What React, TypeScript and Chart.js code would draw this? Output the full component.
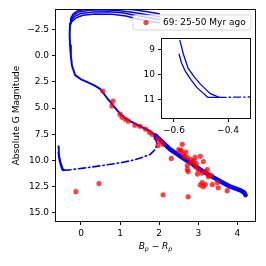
import React, { useEffect, useRef } from "react";
import { Chart, registerables } from "chart.js";
Chart.register(...registerables);

const FONT = "DejaVu Sans";
const BLUE = "#0000ff";
const RED = "rgba(255,0,0,0.75)";

const X_TICKS = [0, 1, 2, 3, 4];
const Y_TICKS = [-2.5, 0, 2.5, 5, 7.5, 10, 12.5, 15];
const INSET_X_TICKS = [-0.6, -0.4];
const INSET_Y_TICKS = [9, 10, 11];
const LEGEND_LABEL = "69: 25-50 Myr ago";
const Y_TITLE = "Absolute G Magnitude";

// observed stars
const STAR_X = [-0.13, 0.46, 0.56, 0.82, 0.79, 1.0, 1.05, 1.13, 1.21, 1.38, 1.51, 1.65, 1.75, 1.82, 1.97, 2.03, 2.1, 1.97,
  2.59, 2.31, 2.54, 2.62, 2.72, 2.85, 2.92, 3.05, 3.13, 2.92, 2.74, 2.72, 3.0, 3.18, 3.26, 3.1, 3.18, 3.36, 3.49,
  2.1, 2.74, 2.72, 3.23, 3.26, 3.13, 3.51, 3.74, 3.33, 2.56, 2.65, 2.8, 2.95, 2.68, 3.05, 2.82, 2.88, 2.5, 3.1, 2.98];
const STAR_Y = [12.98, 12.2, 3.37, 4.33, 4.8, 5.58, 5.87, 6.06, 6.25, 6.63, 6.73, 7.0, 7.3, 7.5, 7.88, 8.17, 8.46, 8.56,
  8.46, 9.8, 9.13, 9.42, 9.71, 10.1, 9.71, 9.6, 10.1, 10.58, 11.06, 10.87, 10.87, 11.06, 11.54, 12.1, 12.3, 12.3, 12.1,
  13.27, 13.46, 10.48, 10.87, 11.35, 12.5, 12.6, 12.88, 11.44, 9.0, 9.6, 9.9, 10.3, 9.2, 12.35, 10.2, 10.0, 8.95, 11.2, 11.3];

// isochrone: upper main sequence
const MS_TOP_X = [-0.28, -0.29, -0.28, -0.26, -0.23, -0.15, 0.0, 0.15, 0.35, 0.49, 0.6, 0.7, 0.79, 0.9, 1.0, 1.13, 1.26, 1.51, 1.77, 1.97];
const MS_TOP_Y = [-3.0, -2.0, -1.0, 0.0, 0.96, 1.85, 2.25, 2.5, 2.85, 3.17, 3.7, 4.2, 4.6, 5.1, 5.55, 5.95, 6.25, 6.73, 7.21, 7.79];
// lower main sequence (overlapping isochrones)
const MS_BOT_X = [1.9, 2.1, 2.28, 2.5, 2.79, 3.13, 3.49, 3.82, 4.08, 4.17, 4.21];
const MS_BOT_Y = [7.6, 8.3, 8.94, 9.5, 10.19, 11.06, 11.83, 12.5, 12.85, 13.05, 13.3];
// giant branches
const GB_A_X = [-0.28, -0.26, -0.2, -0.08, 0.15, 0.5, 1.0, 1.35, 1.7, 2.0];
const GB_A_Y = [-3.0, -3.6, -4.0, -4.3, -4.45, -4.52, -4.48, -4.38, -4.2, -4.0];
const GB_B_X = [-0.28, -0.25, -0.18, -0.05, 0.2, 0.6, 1.0, 1.35, 1.7, 2.0];
const GB_B_Y = [-3.0, -3.5, -3.9, -4.18, -4.33, -4.38, -4.3, -4.12, -3.92, -3.72];
const GB_C_X = [-0.28, -0.24, -0.15, 0.0, 0.3, 0.7, 1.05, 1.35, 1.7, 2.0];
const GB_C_Y = [-3.0, -3.4, -3.78, -4.03, -4.17, -4.2, -4.1, -3.88, -3.65, -3.45];
const GB_D_X = [-0.28, -0.22, -0.12, 0.05, 0.35, 0.8, 1.15, 1.4, 1.7, 2.0];
const GB_D_Y = [-3.0, -3.3, -3.62, -3.86, -3.98, -3.96, -3.8, -3.55, -3.32, -3.15];
// faint end (solid curves)
const PMS_A_X = [-0.578, -0.565, -0.548, -0.525, -0.504, -0.467, -0.433];
const PMS_A_Y = [8.65, 9.2, 9.75, 10.1, 10.37, 10.76, 10.92];
const PMS_B_X = [-0.581, -0.572, -0.559, -0.538, -0.515, -0.474, -0.433];
const PMS_B_Y = [9.2, 9.55, 9.86, 10.2, 10.53, 10.92, 10.92];
// dash-dot branch
const DASH_X = [-0.433, -0.3, 0.18, 0.6, 1.05, 1.35, 1.56, 1.77, 1.9, 1.95, 1.92, 1.87];
const DASH_Y = [10.92, 10.9, 10.67, 10.45, 10.19, 9.95, 9.71, 9.42, 8.94, 8.46, 8.1, 7.85];

const pts = (xs: number[], ys: number[]) => xs.map((x, i) => ({ x, y: ys[i] }));
const minus = (s: string) => s.replace("-", "\u2212");

const line = (label: string, xs: number[], ys: number[], w: number, dash: number[] = []) => ({
  type: "line" as const,
  label,
  data: pts(xs, ys),
  showLine: true,
  borderColor: BLUE,
  borderWidth: w,
  borderDash: dash,
  pointRadius: 0,
  fill: false,
  tension: 0,
  borderCapStyle: "round" as const,
  borderJoinStyle: "round" as const,
  clip: 0,
});

const framePlugin = {
  id: "frame",
  beforeDraw(chart: any, _a: any, opts: any) {
    if (!opts.fill) return;
    const { ctx, chartArea: a } = chart;
    ctx.save();
    ctx.fillStyle = "#fff";
    ctx.fillRect(a.left, a.top, a.right - a.left, a.bottom - a.top);
    ctx.restore();
  },
  afterDatasetsDraw(chart: any) {
    const { ctx, chartArea: a } = chart;
    ctx.save();
    ctx.strokeStyle = "#111";
    ctx.lineWidth = 1;
    const l = Math.round(a.left) + 0.5, t = Math.round(a.top) + 0.5;
    const r = Math.round(a.right) - 0.5, b = Math.round(a.bottom) - 0.5;
    ctx.strokeRect(l, t, r - l, b - t);
    ctx.restore();
  },
};

const decorPlugin = {
  id: "decor",
  afterDraw(chart: any) {
    const { ctx, chartArea: a } = chart;
    ctx.save();
    // legend
    const lx = 133, ly = 15, lw = 118, lh = 15, rr = 2;
    ctx.beginPath();
    ctx.moveTo(lx + rr, ly);
    ctx.arcTo(lx + lw, ly, lx + lw, ly + lh, rr);
    ctx.arcTo(lx + lw, ly + lh, lx, ly + lh, rr);
    ctx.arcTo(lx, ly + lh, lx, ly, rr);
    ctx.arcTo(lx, ly, lx + lw, ly, rr);
    ctx.closePath();
    ctx.fillStyle = "rgba(255,255,255,0.8)";
    ctx.fill();
    ctx.strokeStyle = "rgba(204,204,204,0.8)";
    ctx.lineWidth = 1;
    ctx.stroke();
    ctx.fillStyle = RED;
    ctx.beginPath();
    ctx.arc(146, ly + lh / 2, 2.6, 0, Math.PI * 2);
    ctx.fill();
    ctx.fillStyle = "#000";
    ctx.font = `9px "${FONT}"`;
    ctx.textBaseline = "middle";
    ctx.textAlign = "left";
    ctx.fillText(LEGEND_LABEL, 163, ly + lh / 2 + 0.5);

    // y title
    ctx.save();
    ctx.translate(17, (a.top + a.bottom) / 2);
    ctx.rotate(-Math.PI / 2);
    ctx.textAlign = "center";
    ctx.textBaseline = "middle";
    ctx.font = `9px "${FONT}"`;
    ctx.fillText(Y_TITLE, 0, 0);
    ctx.restore();

    // x title: B_p − R_p
    const parts: [string, string, number][] = [
      ["B", "italic 9px", 0],
      ["p", "italic 6.3px", 2],
      [" \u2212 ", "9px", 0],
      ["R", "italic 9px", 0],
      ["p", "italic 6.3px", 2],
    ];
    let total = 0;
    for (const [s, f] of parts) { ctx.font = `${f} "${FONT}"`; total += ctx.measureText(s).width; }
    let x = (a.left + a.right) / 2 - total / 2;
    const base = 249;
    ctx.textBaseline = "alphabetic";
    ctx.textAlign = "left";
    for (const [s, f, dy] of parts) {
      ctx.font = `${f} "${FONT}"`;
      ctx.fillText(s, x, base + dy);
      x += ctx.measureText(s).width;
    }
    ctx.restore();
  },
};

const axisCommon = (font: number) => ({
  type: "linear" as const,
  grid: { drawOnChartArea: false, drawTicks: true, tickLength: 3, color: "#111", lineWidth: 1 },
  border: { display: false },
  ticks: { font: { family: FONT, size: font }, color: "#000", padding: 3, maxRotation: 0, autoSkip: false },
});

export default function App() {
  const mainRef = useRef<HTMLCanvasElement>(null);
  const insetRef = useRef<HTMLCanvasElement>(null);

  useEffect(() => {
    const mainC = axisCommon(9);
    const main = new Chart(mainRef.current!, {
      type: "scatter",
      data: {
        datasets: [
          {
            label: LEGEND_LABEL,
            data: pts(STAR_X, STAR_Y),
            pointRadius: 2.6,
            pointBackgroundColor: RED,
            pointBorderWidth: 0,
            showLine: false,
          } as any,
          line("ms_top", MS_TOP_X, MS_TOP_Y, 2),
          line("ms_bot", MS_BOT_X, MS_BOT_Y, 4.5),
          line("gb_a", GB_A_X, GB_A_Y, 1.5),
          line("gb_b", GB_B_X, GB_B_Y, 1.5),
          line("gb_c", GB_C_X, GB_C_Y, 1.5),
          line("gb_d", GB_D_X, GB_D_Y, 1.5),
          line("pms_a", PMS_A_X, PMS_A_Y, 1.6),
          line("pms_b", PMS_B_X, PMS_B_Y, 1.6),
          line("dash", DASH_X, DASH_Y, 1.6, [7, 3, 1.5, 3]),
        ],
      },
      options: {
        responsive: false,
        animation: false,
        events: [],
        layout: { padding: { left: 0, right: 10, top: 9, bottom: 0 } },
        plugins: { legend: { display: false }, tooltip: { enabled: false }, frame: { fill: false } } as any,
        scales: {
          x: {
            ...mainC,
            min: -0.665,
            max: 4.476,
            afterBuildTicks: (s: any) => { s.ticks = X_TICKS.map((v) => ({ value: v })); },
            afterFit: (s: any) => { s.height = 44; },
            ticks: { ...mainC.ticks, callback: (v: any) => minus(String(v)) },
          },
          y: {
            ...mainC,
            reverse: true,
            min: -4.46,
            max: 15.87,
            afterBuildTicks: (s: any) => { s.ticks = Y_TICKS.map((v) => ({ value: v })); },
            afterFit: (s: any) => { s.width = 55; },
            ticks: { ...mainC.ticks, callback: (v: any) => minus(Number(v).toFixed(1)) },
          },
        } as any,
      },
      plugins: [framePlugin, decorPlugin],
    });

    const insC = axisCommon(9);
    const inset = new Chart(insetRef.current!, {
      type: "scatter",
      data: {
        datasets: [
          line("pms_a", PMS_A_X, PMS_A_Y, 1.3),
          line("pms_b", PMS_B_X, PMS_B_Y, 1.3),
          line("dash", DASH_X, DASH_Y, 1.3, [7, 3, 1.5, 3]),
        ],
      },
      options: {
        responsive: false,
        animation: false,
        events: [],
        layout: { padding: { left: 0, right: 9, top: 7, bottom: 0 } },
        plugins: { legend: { display: false }, tooltip: { enabled: false }, frame: { fill: true } } as any,
        scales: {
          x: {
            ...insC,
            min: -0.648,
            max: -0.315,
            afterBuildTicks: (s: any) => { s.ticks = INSET_X_TICKS.map((v) => ({ value: v })); },
            afterFit: (s: any) => { s.height = 21; },
            ticks: { ...insC.ticks, callback: (v: any) => minus(Number(v).toFixed(1)) },
          },
          y: {
            ...insC,
            reverse: true,
            min: 8.57,
            max: 11.78,
            afterBuildTicks: (s: any) => { s.ticks = INSET_Y_TICKS.map((v) => ({ value: v })); },
            afterFit: (s: any) => { s.width = 31; },
            ticks: { ...insC.ticks, callback: (v: any) => String(v) },
          },
        } as any,
      },
      plugins: [framePlugin],
    });

    return () => {
      main.destroy();
      inset.destroy();
    };
  }, []);

  return (
    <div style={{ position: "fixed", left: 0, top: 0, width: 266, height: 266, background: "#fff" }}>
      <canvas ref={mainRef} width={266} height={266} style={{ position: "absolute", left: 0, top: 0, width: 266, height: 266 }} />
      <canvas ref={insetRef} width={130} height={110} style={{ position: "absolute", left: 130, top: 30, width: 130, height: 110 }} />
    </div>
  );
}
